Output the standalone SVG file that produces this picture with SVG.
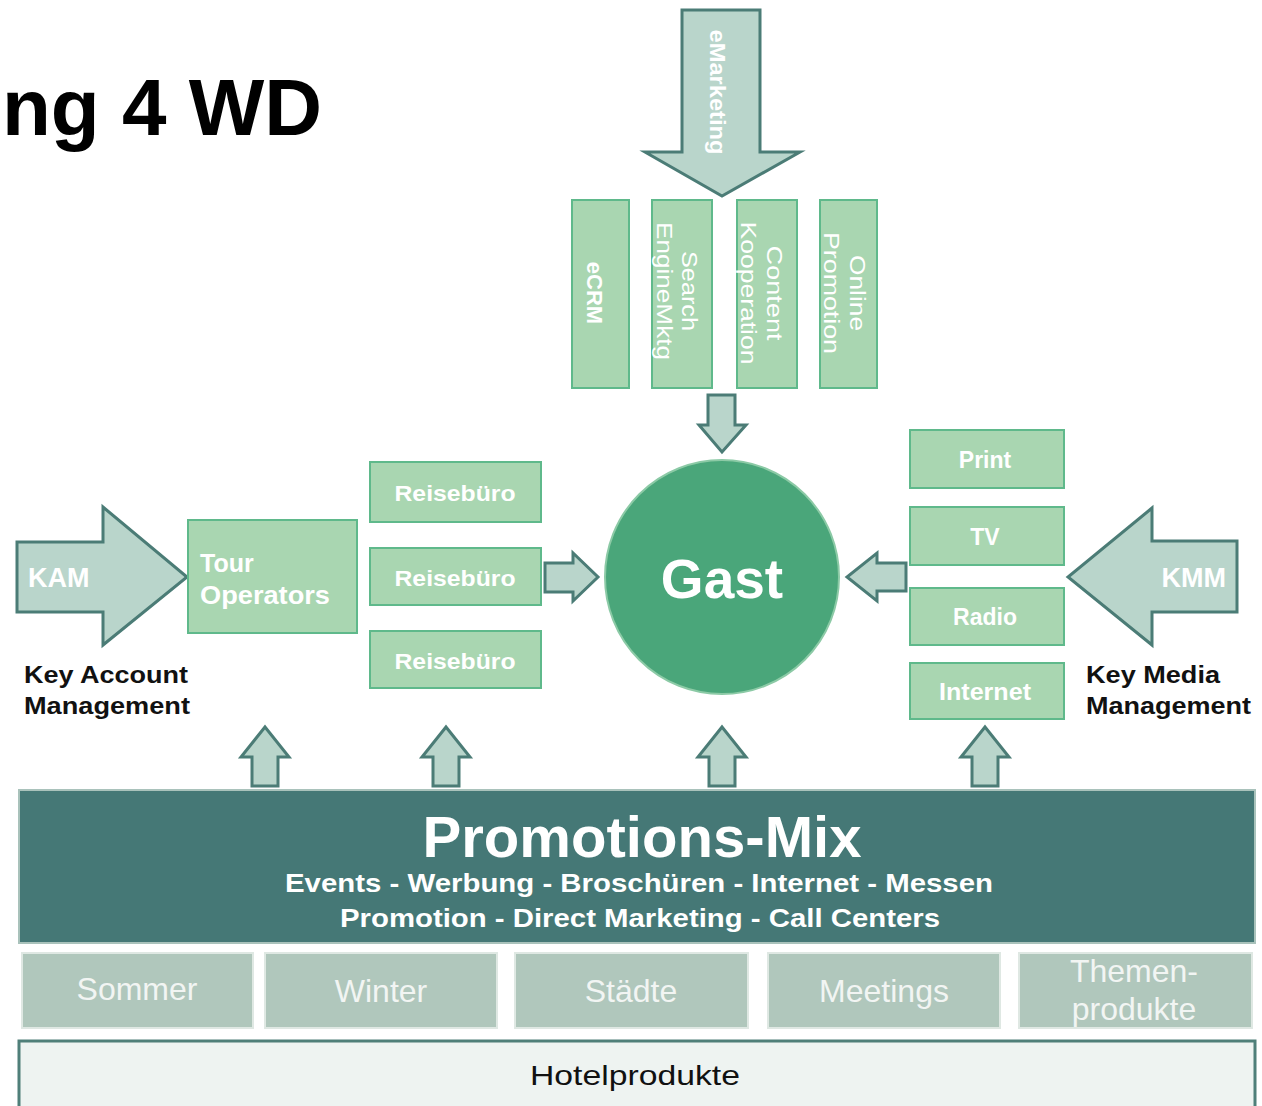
<svg xmlns="http://www.w3.org/2000/svg" width="1262" height="1106" viewBox="0 0 1262 1106">
<style>
.box{fill:#a9d6b1;stroke:#5fb98b;stroke-width:2}
.arr{fill:#b9d5cb;stroke:#4b7c76;stroke-width:3;stroke-linejoin:miter}
.wt{fill:#ffffff;font-family:"Liberation Sans",Arial,sans-serif}
.bt{fill:#111111;font-family:"Liberation Sans",Arial,sans-serif;font-weight:bold}
.cat{fill:#b0c7bc;stroke:#dfe8e3;stroke-width:2}
.ct{fill:#f2f5f3;font-family:"Liberation Sans",Arial,sans-serif;font-size:32px;text-anchor:middle}
</style>
<rect width="1262" height="1106" fill="#ffffff"/>
<text x="2" y="135" style="font-family:'Liberation Sans',Arial,sans-serif;font-weight:bold;font-size:80px;fill:#000">ng 4 WD</text>

<g id="connectors">
<path class="arr" d="M682,10 L760,10 L760,152 L800,152 L722,196 L645,152 L682,152 Z"/>
<path class="arr" d="M708,395 L735,395 L735,425 L746,425 L722,452 L699,425 L708,425 Z"/>
<path class="arr" d="M545,563 L573,563 L573,553 L598,577 L573,601 L573,592 L545,592 Z"/>
<path class="arr" d="M906,563 L877,563 L877,553 L847,577 L877,601 L877,591 L906,591 Z"/>
<path class="arr" d="M17,542 L103,542 L103,507 L187,577 L103,645 L103,612 L17,612 Z"/>
<path class="arr" d="M1237,541 L1152,541 L1152,508 L1068,577 L1152,645 L1152,612 L1237,612 Z"/>
<path class="arr" d="M265,727 L289,757 L278,757 L278,786 L252,786 L252,757 L241,757 Z"/>
<path class="arr" d="M446,727 L470,757 L459,757 L459,786 L433,786 L433,757 L422,757 Z"/>
<path class="arr" d="M722,727 L746,757 L735,757 L735,786 L709,786 L709,757 L698,757 Z"/>
<path class="arr" d="M985,727 L1009,757 L998,757 L998,786 L972,786 L972,757 L961,757 Z"/>
<text class="wt" transform="translate(710,92) rotate(90)" text-anchor="middle" font-size="22" font-weight="bold" textLength="125" lengthAdjust="spacingAndGlyphs">eMarketing</text>
<text class="wt" x="28" y="587" font-size="27" font-weight="bold">KAM</text>
<text class="wt" x="1226" y="587" font-size="27" font-weight="bold" text-anchor="end">KMM</text>
</g>

<g id="eCRM"><rect class="box" x="572" y="200" width="57" height="188"/>
<text class="wt" transform="translate(587,293) rotate(90)" text-anchor="middle" font-size="22" font-weight="bold">eCRM</text></g>
<g id="search"><rect class="box" x="652" y="200" width="60" height="188"/>
<text class="wt" transform="translate(682,291) rotate(90)" text-anchor="middle" font-size="22" textLength="80" lengthAdjust="spacingAndGlyphs">Search</text>
<text class="wt" transform="translate(657,291) rotate(90)" text-anchor="middle" font-size="22" textLength="138" lengthAdjust="spacingAndGlyphs">EngineMktg</text></g>
<g id="content"><rect class="box" x="737" y="200" width="60" height="188"/>
<text class="wt" transform="translate(767,293) rotate(90)" text-anchor="middle" font-size="22" textLength="95" lengthAdjust="spacingAndGlyphs">Content</text>
<text class="wt" transform="translate(741,293) rotate(90)" text-anchor="middle" font-size="22" textLength="143" lengthAdjust="spacingAndGlyphs">Kooperation</text></g>
<g id="online"><rect class="box" x="820" y="200" width="57" height="188"/>
<text class="wt" transform="translate(850,293) rotate(90)" text-anchor="middle" font-size="22" textLength="76" lengthAdjust="spacingAndGlyphs">Online</text>
<text class="wt" transform="translate(824,293) rotate(90)" text-anchor="middle" font-size="22" textLength="122" lengthAdjust="spacingAndGlyphs">Promotion</text></g>

<g id="gast"><circle cx="722" cy="577" r="117" fill="#4aa67a" stroke="#8ccaa6" stroke-width="2"/>
<text class="wt" x="722" y="598" font-size="55" font-weight="bold" text-anchor="middle">Gast</text></g>

<g id="tour"><rect class="box" x="188" y="520" width="169" height="113"/>
<text class="wt" x="200" y="572" font-size="25" font-weight="bold">Tour</text>
<text class="wt" x="200" y="604" font-size="25" font-weight="bold" textLength="130" lengthAdjust="spacingAndGlyphs">Operators</text></g>
<g id="reise1"><rect class="box" x="370" y="462" width="171" height="60"/>
<text class="wt" x="455" y="501" font-size="22" font-weight="bold" text-anchor="middle" textLength="121" lengthAdjust="spacingAndGlyphs">Reisebüro</text></g>
<g id="reise2"><rect class="box" x="370" y="548" width="171" height="57"/>
<text class="wt" x="455" y="586" font-size="22" font-weight="bold" text-anchor="middle" textLength="121" lengthAdjust="spacingAndGlyphs">Reisebüro</text></g>
<g id="reise3"><rect class="box" x="370" y="631" width="171" height="57"/>
<text class="wt" x="455" y="669" font-size="22" font-weight="bold" text-anchor="middle" textLength="121" lengthAdjust="spacingAndGlyphs">Reisebüro</text></g>

<g id="print"><rect class="box" x="910" y="430" width="154" height="58"/>
<text class="wt" x="985" y="468" font-size="23" font-weight="bold" text-anchor="middle">Print</text></g>
<g id="tv"><rect class="box" x="910" y="507" width="154" height="58"/>
<text class="wt" x="985" y="545" font-size="23" font-weight="bold" text-anchor="middle">TV</text></g>
<g id="radio"><rect class="box" x="910" y="588" width="154" height="57"/>
<text class="wt" x="985" y="625" font-size="23" font-weight="bold" text-anchor="middle">Radio</text></g>
<g id="internet"><rect class="box" x="910" y="663" width="154" height="56"/>
<text class="wt" x="985" y="700" font-size="23" font-weight="bold" text-anchor="middle" textLength="92" lengthAdjust="spacingAndGlyphs">Internet</text></g>

<g id="kam-label">
<text class="bt" x="24" y="683" font-size="23" textLength="164" lengthAdjust="spacingAndGlyphs">Key Account</text>
<text class="bt" x="24" y="714" font-size="23" textLength="166" lengthAdjust="spacingAndGlyphs">Management</text></g>
<g id="kmm-label">
<text class="bt" x="1086" y="683" font-size="23" textLength="134" lengthAdjust="spacingAndGlyphs">Key Media</text>
<text class="bt" x="1086" y="714" font-size="23" textLength="165" lengthAdjust="spacingAndGlyphs">Management</text></g>

<g id="promotions-mix"><rect x="19" y="790" width="1236" height="153" fill="#457876" stroke="#a9c2bb" stroke-width="2"/>
<text class="wt" x="642" y="857" font-size="57" font-weight="bold" text-anchor="middle" textLength="439" lengthAdjust="spacingAndGlyphs">Promotions-Mix</text>
<text class="wt" x="639" y="892" font-size="25" font-weight="bold" text-anchor="middle" textLength="708" lengthAdjust="spacingAndGlyphs">Events - Werbung - Broschüren - Internet - Messen</text>
<text class="wt" x="640" y="927" font-size="25" font-weight="bold" text-anchor="middle" textLength="600" lengthAdjust="spacingAndGlyphs">Promotion - Direct Marketing - Call Centers</text></g>

<g id="sommer"><rect class="cat" x="22" y="953" width="231" height="75"/><text class="ct" x="137" y="1000">Sommer</text></g>
<g id="winter"><rect class="cat" x="265" y="953" width="232" height="75"/><text class="ct" x="381" y="1002">Winter</text></g>
<g id="staedte"><rect class="cat" x="515" y="953" width="233" height="75"/><text class="ct" x="631" y="1002">Städte</text></g>
<g id="meetings"><rect class="cat" x="768" y="953" width="232" height="75"/><text class="ct" x="884" y="1002">Meetings</text></g>
<g id="themen"><rect class="cat" x="1019" y="953" width="233" height="75"/><text class="ct" x="1134" y="982">Themen-</text><text class="ct" x="1134" y="1020">produkte</text></g>

<g id="hotel"><rect x="19" y="1041" width="1236" height="70" fill="#eef3f1" stroke="#4f7f79" stroke-width="3"/>
<text x="635" y="1085" font-family="'Liberation Sans',Arial,sans-serif" font-size="28" fill="#111" text-anchor="middle" textLength="210" lengthAdjust="spacingAndGlyphs">Hotelprodukte</text></g>
</svg>
